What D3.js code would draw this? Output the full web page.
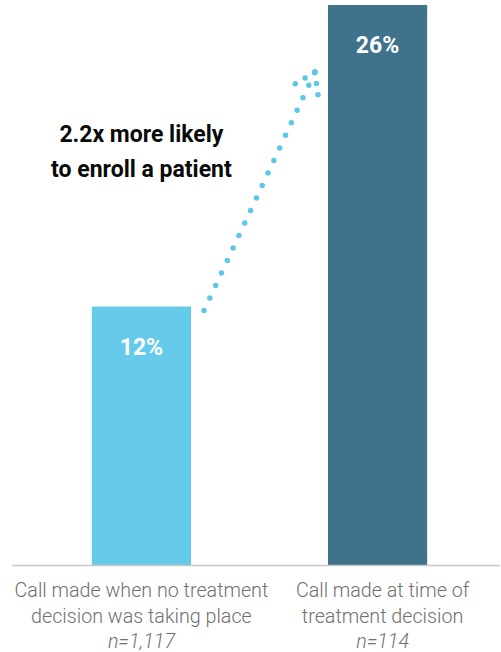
<!DOCTYPE html>
<html>
<head>
<meta charset="utf-8">
<script src="https://cdn.jsdelivr.net/npm/d3@7"></script>
<style>
  body { margin: 0; background: #fff; }
  svg { display: block; }
</style>
</head>
<body>
<svg id="chart"></svg>
<script>
// data
const categories = ["no_decision", "at_decision"];
const values = [12, 26];
const valueLabels = ["12%", "26%"];
const labelLines = [
    ["Call made when no treatment", "decision was taking place"],
    ["Call made at time of", "treatment decision"]
];
const sampleSizes = ["n=1,117", "n=114"];
const annotation = ["2.2x more likely", "to enroll a patient"];

const width = 501;
const height = 652;
const baseline = 565;

const svg = d3.select("#chart")
    .attr("width", width)
    .attr("height", height);

// colors
const barColors = ["#66cbea", "#3e738b"];
const dotColor = "#5ec6e9";

// scales
const x = d3.scaleBand()
    .domain(categories)
    .range([21, 498])
    .paddingInner(0.58)
    .paddingOuter(0.3);

const y = d3.scaleLinear()
    .domain([0, 26])
    .range([baseline, 5]);

// bars
svg.append("g")
    .selectAll("rect")
    .data(values)
    .enter().append("rect")
    .attr("x", (d, i) => x(categories[i]))
    .attr("y", d => y(d))
    .attr("width", x.bandwidth())
    .attr("height", d => baseline - y(d))
    .attr("fill", (d, i) => barColors[i]);

// baseline
svg.append("line")
    .attr("x1", 12)
    .attr("x2", 500)
    .attr("y1", baseline + 0.5)
    .attr("y2", baseline + 0.5)
    .attr("stroke", "#c8c8c8")
    .attr("stroke-width", 1.5);

// value labels
svg.append("g")
    .selectAll("text")
    .data(values)
    .enter().append("text")
    .attr("x", (d, i) => x(categories[i]) + x.bandwidth() / 2)
    .attr("y", d => y(d) + 48)
    .attr("text-anchor", "middle")
    .attr("fill", "#fff")
    .style("font-family", "Roboto, sans-serif")
    .style("font-weight", 700)
    .style("font-size", "23px")
    .text((d, i) => valueLabels[i]);

// category labels
const labels = svg.append("g")
    .selectAll("text")
    .data(categories)
    .enter().append("text")
    .attr("x", d => x(d) + x.bandwidth() / 2 + (d === "at_decision" ? 5 : 0))
    .attr("y", 597)
    .attr("text-anchor", "middle")
    .attr("fill", "#707070")
    .style("font-family", "Roboto, sans-serif")
    .style("font-weight", 300)
    .style("font-size", "19.7px");

labels.each(function(d, i) {
    const t = d3.select(this);
    const cx = t.attr("x");
    labelLines[i].forEach((line, j) => {
        t.append("tspan")
            .attr("x", cx)
            .attr("dy", j === 0 ? 0 : 26)
            .text(line);
    });
    t.append("tspan")
        .attr("x", cx)
        .attr("dy", 25)
        .style("font-style", "italic")
        .text(sampleSizes[i]);
});

// annotation text
svg.append("text")
    .attr("x", x(categories[0]) + x.bandwidth() / 2)
    .attr("y", 142)
    .attr("text-anchor", "middle")
    .attr("fill", "#0a0a0a")
    .style("font-family", "Roboto, sans-serif")
    .style("font-weight", 700)
    .style("font-size", "23px")
    .selectAll("tspan")
    .data(annotation)
    .enter().append("tspan")
    .attr("x", x(categories[0]) + x.bandwidth() / 2)
    .attr("dy", (d, i) => i === 0 ? 0 : 35)
    .text(d => d);

// dotted arrow from bar 1 to bar 2
const start = [x(categories[0]) + x.bandwidth() + 13, y(values[0]) + 4];
const tip = [x(categories[1]) - 13, y(values[1]) + 67];
const line = d3.line();

svg.append("path")
    .attr("d", line([start, tip]))
    .attr("fill", "none")
    .attr("stroke", dotColor)
    .attr("stroke-width", 5.5)
    .attr("stroke-linecap", "round")
    .attr("stroke-dasharray", "0 13.8");

// arrow head wings
const wings = [
    [tip, [tip[0] - 20, tip[1] + 12]],
    [tip, [tip[0] + 3, tip[1] + 23]]
];
svg.append("g")
    .selectAll("path")
    .data(wings)
    .enter().append("path")
    .attr("d", d => line(d))
    .attr("fill", "none")
    .attr("stroke", dotColor)
    .attr("stroke-width", 5.5)
    .attr("stroke-linecap", "round")
    .attr("stroke-dasharray", "0 11.5");
</script>
</body>
</html>
